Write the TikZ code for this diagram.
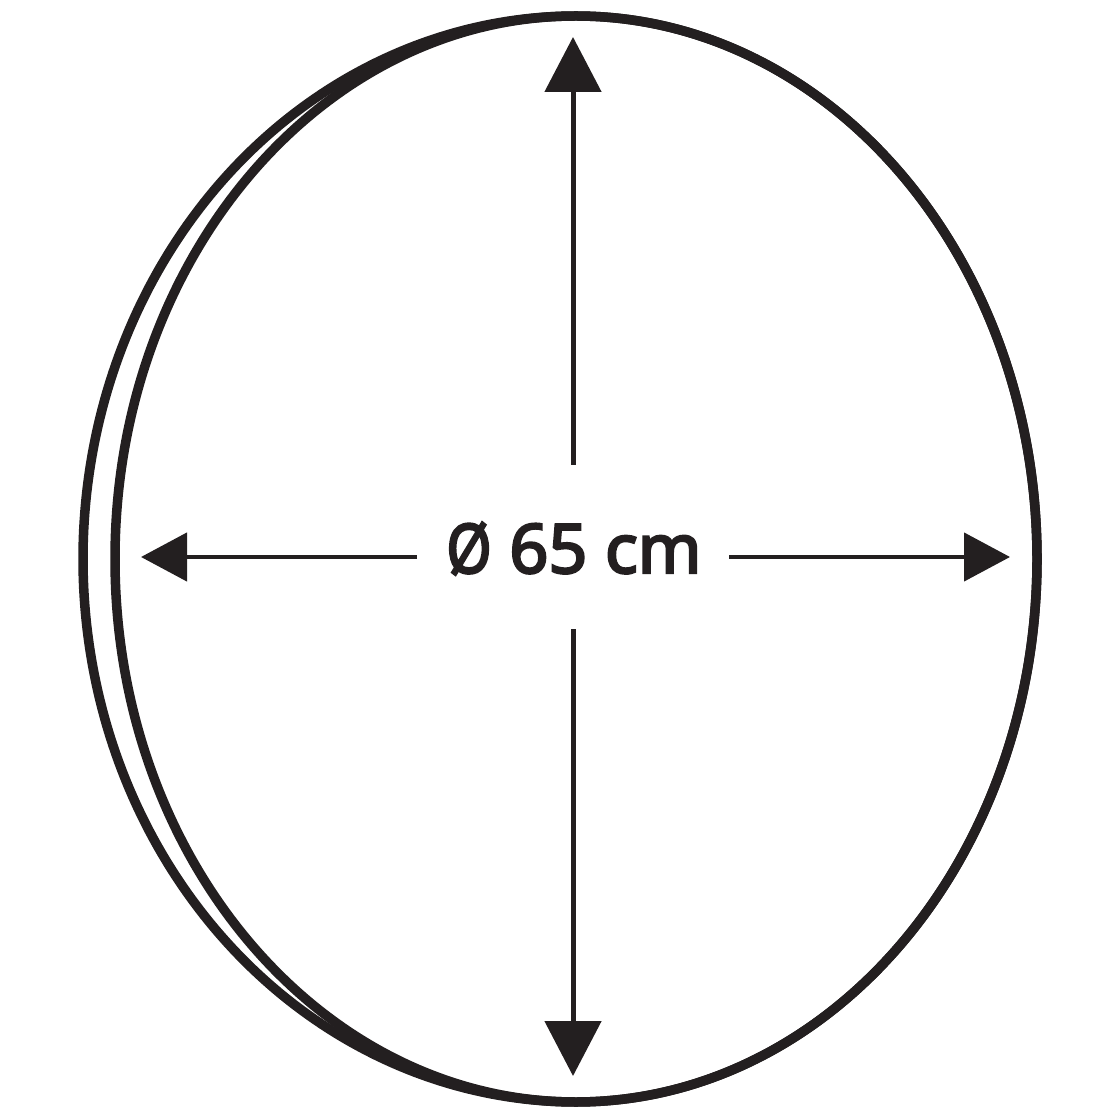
\documentclass[tikz,border=0pt]{standalone}
\usepackage{fontspec}
\setmainfont{Noto Sans}
\newfontfamily\lblfont{Noto Sans}[FakeBold=3.5]
\usetikzlibrary{arrows.meta}
\definecolor{ink}{RGB}{35,31,32}
\begin{document}
\begin{tikzpicture}[x=0.1mm,y=-0.1mm,
  rim/.style={draw=ink, line width=0.95mm, line join=round},
  dimh/.style={draw=ink, line width=0.45mm, -{Triangle[length=4.6mm,width=4.8mm]}},
  dimv/.style={draw=ink, line width=0.5mm, -{Triangle[length=5.5mm,width=5.6mm]}},
  lbl/.style={text=ink, font=\lblfont\fontsize{19.4}{20}\selectfont, inner sep=0pt}]
\useasboundingbox (0,0) rectangle (1120,1120);
% mirror rims
\draw[rim] (576,559) ellipse [x radius=461, y radius=543];
\draw[rim] plot[samples=361, domain=0:360, variable=\t] ({576+461*cos(\t)-32*max(0,-cos(\t))},{559+543*sin(\t)}) -- cycle;
% label
\node[lbl, anchor=base] (lab) at (574,573) {\scalebox{0.85}[1]{Ø} 65 cm};
% dimension arrows
\coordinate (hL0) at (417,557);
\coordinate (hL1) at (141,557);
\coordinate (hR0) at (729,557);
\coordinate (hR1) at (1010,557);
\coordinate (vT0) at (573,465);
\coordinate (vT1) at (573,37);
\coordinate (vB0) at (573,629);
\coordinate (vB1) at (573,1076);
\draw[dimh] (hL0) -- (hL1);
\draw[dimh] (hR0) -- (hR1);
\draw[dimv] (vT0) -- (vT1);
\draw[dimv] (vB0) -- (vB1);
\end{tikzpicture}
\end{document}
